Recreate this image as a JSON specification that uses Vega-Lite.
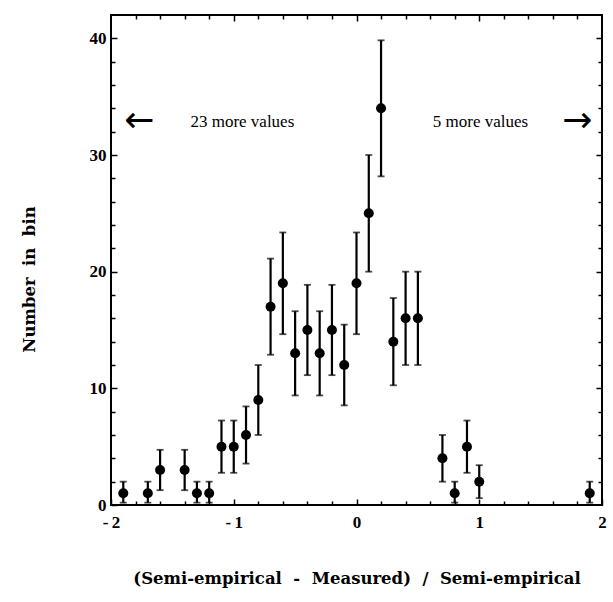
{
  "$schema": "https://vega.github.io/schema/vega-lite/v6.json",
  "width": 491,
  "height": 490,
  "autosize": "none",
  "padding": {"left": 111, "top": 15, "right": 11, "bottom": 97},
  "background": "white",
  "config": {
    "view": {"stroke": "black", "strokeWidth": 2},
    "axis": {"grid": false, "domain": false, "tickColor": "black", "tickWidth": 1.5, "labelColor": "black", "titleColor": "black"}
  },
  "datasets": {
    "pts": [
      {"x": -1.9, "n": 1, "lo": 0.2, "hi": 2},
      {"x": -1.7, "n": 1, "lo": 0.2, "hi": 2},
      {"x": -1.6, "n": 3, "lo": 1.27, "hi": 4.73},
      {"x": -1.4, "n": 3, "lo": 1.27, "hi": 4.73},
      {"x": -1.3, "n": 1, "lo": 0.2, "hi": 2},
      {"x": -1.2, "n": 1, "lo": 0.2, "hi": 2},
      {"x": -1.1, "n": 5, "lo": 2.76, "hi": 7.24},
      {"x": -1.0, "n": 5, "lo": 2.76, "hi": 7.24},
      {"x": -0.9, "n": 6, "lo": 3.55, "hi": 8.45},
      {"x": -0.8, "n": 9, "lo": 6, "hi": 12},
      {"x": -0.7, "n": 17, "lo": 12.88, "hi": 21.12},
      {"x": -0.6, "n": 19, "lo": 14.64, "hi": 23.36},
      {"x": -0.5, "n": 13, "lo": 9.39, "hi": 16.61},
      {"x": -0.4, "n": 15, "lo": 11.13, "hi": 18.87},
      {"x": -0.3, "n": 13, "lo": 9.39, "hi": 16.61},
      {"x": -0.2, "n": 15, "lo": 11.13, "hi": 18.87},
      {"x": -0.1, "n": 12, "lo": 8.54, "hi": 15.46},
      {"x": 0.0, "n": 19, "lo": 14.64, "hi": 23.36},
      {"x": 0.1, "n": 25, "lo": 20, "hi": 30},
      {"x": 0.2, "n": 34, "lo": 28.17, "hi": 39.83},
      {"x": 0.3, "n": 14, "lo": 10.26, "hi": 17.74},
      {"x": 0.4, "n": 16, "lo": 12, "hi": 20},
      {"x": 0.5, "n": 16, "lo": 12, "hi": 20},
      {"x": 0.7, "n": 4, "lo": 2, "hi": 6},
      {"x": 0.8, "n": 1, "lo": 0.2, "hi": 2},
      {"x": 0.9, "n": 5, "lo": 2.76, "hi": 7.24},
      {"x": 1.0, "n": 2, "lo": 0.59, "hi": 3.41},
      {"x": 1.9, "n": 1, "lo": 0.2, "hi": 2}
    ],
    "notes": [
      {"x": -0.93, "y": 32.8, "label": "23 more values"},
      {"x": 1.01, "y": 32.8, "label": "5 more values"}
    ],
    "arrows": [
      {"x": -1.77, "y": 32.9, "label": "←"},
      {"x": 1.80, "y": 32.9, "label": "→"}
    ]
  },
  "layer": [
    {
      "data": {"name": "pts"},
      "mark": {"type": "rule", "color": "black", "strokeWidth": 2.2},
      "encoding": {
        "x": {"field": "x", "type": "quantitative", "scale": {"domain": [-2, 2], "nice": false, "zero": false},
          "axis": {"orient": "bottom", "values": [-2, -1, 0, 1, 2], "tickSize": -6, "labelExpr": "(datum.value < 0 ? '-\u2009' : '') + abs(datum.value)",
            "labelFont": "Liberation Serif", "labelFontWeight": "bold", "labelFontSize": 17, "labelPadding": 15, "labelFlush": false,
            "title": "(Semi-empirical\u00a0 -\u00a0 Measured)\u00a0 /\u00a0 Semi-empirical", "titleFont": "DejaVu Serif", "titleFontWeight": "bold", "titleFontSize": 16.5, "titlePadding": 40}},
        "y": {"field": "lo", "type": "quantitative", "scale": {"domain": [0, 42], "nice": false},
          "axis": {"orient": "left", "values": [0, 10, 20, 30, 40], "tickSize": -6, "labelFont": "Liberation Serif", "labelFontWeight": "bold", "labelFontSize": 17, "labelPadding": 11, "labelFlush": false,
            "title": "Number\u00a0 in\u00a0 bin", "titleFont": "DejaVu Serif", "titleFontWeight": "bold", "titleFontSize": 16.5, "titlePadding": 52, "titleY": 264}},
        "y2": {"field": "hi"}
      }
    },
    {
      "data": {"name": "pts"},
      "mark": {"type": "tick", "orient": "horizontal", "color": "black", "size": 7, "thickness": 1.8},
      "encoding": {
        "x": {"field": "x", "type": "quantitative", "axis": {"orient": "top", "values": [-1, 0, 1], "tickSize": -6, "labels": false, "title": null}},
        "y": {"field": "hi", "type": "quantitative", "axis": {"orient": "right", "values": [10, 20, 30, 40], "tickSize": -6, "labels": false, "title": null}}
      }
    },
    {
      "data": {"name": "pts"},
      "mark": {"type": "tick", "orient": "horizontal", "color": "black", "size": 7, "thickness": 1.8},
      "encoding": {
        "x": {"field": "x", "type": "quantitative", "axis": {"orient": "bottom", "values": [-1.8, -1.6, -1.4, -1.2, -0.8, -0.6, -0.4, -0.2, 0.2, 0.4, 0.6, 0.8, 1.2, 1.4, 1.6, 1.8], "tickSize": -4, "labels": false, "title": null}},
        "y": {"field": "lo", "type": "quantitative", "axis": {"orient": "left", "values": [2, 4, 6, 8, 12, 14, 16, 18, 22, 24, 26, 28, 32, 34, 36, 38], "tickSize": -4, "labels": false, "title": null}}
      }
    },
    {
      "data": {"name": "pts"},
      "mark": {"type": "point", "filled": true, "color": "black", "size": 100, "opacity": 1},
      "encoding": {
        "x": {"field": "x", "type": "quantitative", "axis": {"orient": "top", "values": [-1.8, -1.6, -1.4, -1.2, -0.8, -0.6, -0.4, -0.2, 0.2, 0.4, 0.6, 0.8, 1.2, 1.4, 1.6, 1.8], "tickSize": -4, "labels": false, "title": null}},
        "y": {"field": "n", "type": "quantitative", "axis": {"orient": "right", "values": [2, 4, 6, 8, 12, 14, 16, 18, 22, 24, 26, 28, 32, 34, 36, 38], "tickSize": -4, "labels": false, "title": null}}
      }
    },
    {
      "data": {"name": "notes"},
      "mark": {"type": "text", "font": "Liberation Serif", "fontSize": 17, "color": "black", "baseline": "middle", "align": "center"},
      "encoding": {
        "x": {"field": "x", "type": "quantitative", "axis": null},
        "y": {"field": "y", "type": "quantitative", "axis": null},
        "text": {"field": "label"}
      }
    },
    {
      "data": {"name": "arrows"},
      "mark": {"type": "text", "font": "DejaVu Sans", "fontSize": 36, "color": "black", "baseline": "middle", "align": "center"},
      "encoding": {
        "x": {"field": "x", "type": "quantitative", "axis": null},
        "y": {"field": "y", "type": "quantitative", "axis": null},
        "text": {"field": "label"}
      }
    }
  ],
  "resolve": {"axis": {"x": "independent", "y": "independent"}}
}
